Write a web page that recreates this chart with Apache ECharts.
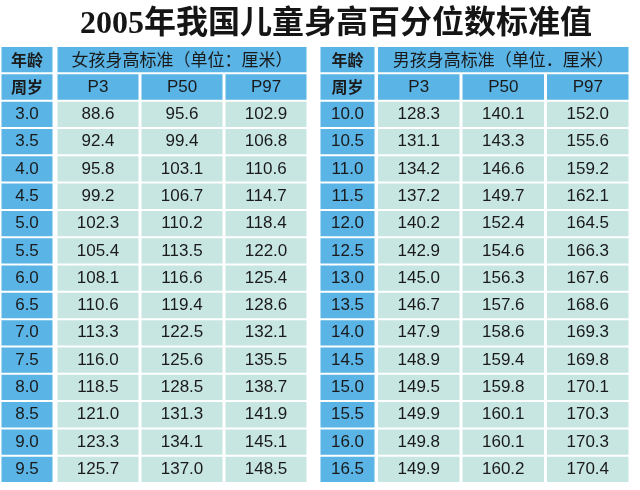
<!DOCTYPE html>
<html>
<head>
<meta charset="utf-8">
<title>2005年我国儿童身高百分位数标准值</title>
<script src="https://cdn.jsdelivr.net/npm/echarts@6/dist/echarts.min.js"></script>
<style>
html, body { margin: 0; padding: 0; background: #fff; }
#main { width: 640px; height: 490px; }
</style>
</head>
<body>
<div id="main"></div>
<script>
// column labels and the two header texts
const columns = ['P3', 'P50', 'P97'];
const girlHeader = '女孩身高标准（单位：厘米）';
const boyHeader = '男孩身高标准（单位．厘米）';

// girls 3.0 - 9.5 years
const girlAges = ['3.0', '3.5', '4.0', '4.5', '5.0', '5.5', '6.0', '6.5', '7.0', '7.5', '8.0', '8.5', '9.0', '9.5'];
const girlP3 = [88.6, 92.4, 95.8, 99.2, 102.3, 105.4, 108.1, 110.6, 113.3, 116.0, 118.5, 121.0, 123.3, 125.7];
const girlP50 = [95.6, 99.4, 103.1, 106.7, 110.2, 113.5, 116.6, 119.4, 122.5, 125.6, 128.5, 131.3, 134.1, 137.0];
const girlP97 = [102.9, 106.8, 110.6, 114.7, 118.4, 122.0, 125.4, 128.6, 132.1, 135.5, 138.7, 141.9, 145.1, 148.5];

// boys 10.0 - 16.5 years
const boyAges = ['10.0', '10.5', '11.0', '11.5', '12.0', '12.5', '13.0', '13.5', '14.0', '14.5', '15.0', '15.5', '16.0', '16.5'];
const boyP3 = [128.3, 131.1, 134.2, 137.2, 140.2, 142.9, 145.0, 146.7, 147.9, 148.9, 149.5, 149.9, 149.8, 149.9];
const boyP50 = [140.1, 143.3, 146.6, 149.7, 152.4, 154.6, 156.3, 157.6, 158.6, 159.4, 159.8, 160.1, 160.1, 160.2];
const boyP97 = [152.0, 155.6, 159.2, 162.1, 164.5, 166.3, 167.6, 168.6, 169.3, 169.8, 170.1, 170.3, 170.3, 170.4];

const blue = '#5ab4e6';
const pale = '#c7e6e2';
const numFont = '17px "Liberation Sans", Arial, sans-serif';
const cjkFont = 'bold 16px "Noto Sans CJK SC", sans-serif';

function ageCells(ages) {
    let cells = [
        { x: 0, y: 0, text: '年龄', font: cjkFont, head: true },
        { x: 0, y: 1, text: '周岁', font: cjkFont, head: true }
    ];
    ages.forEach((a, i) => cells.push({ x: 0, y: i + 2, text: a, font: numFont, head: true }));
    return cells;
}

function valueCells(header, p3, p50, p97) {
    let cells = [{ x: 0, y: 0, text: header, font: '17px "Noto Sans CJK SC", sans-serif', span: 3, head: true }];
    columns.forEach((c, j) => cells.push({ x: j, y: 1, text: c, font: numFont, head: true }));
    [p3, p50, p97].forEach((list, j) => {
        list.forEach((v, i) => cells.push({ x: j, y: i + 2, text: v.toFixed(1), font: numFont }));
    });
    return cells;
}

function cellSeries(cells, idx) {
    return {
        type: 'custom',
        xAxisIndex: idx,
        yAxisIndex: idx,
        clip: false,
        encode: { x: 0, y: 1 },
        data: cells.map(c => [c.x, c.y]),
        renderItem: function (params, api) {
            const c = cells[params.dataIndex];
            const p = api.coord([api.value(0), api.value(1)]);
            const s = api.size([1, 1]);
            const span = c.span || 1;
            return {
                type: 'rect',
                shape: {
                    x: p[0] - s[0] / 2 + 1.5,
                    y: p[1] - s[1] / 2 + 1,
                    width: s[0] * span - 3,
                    height: s[1] - 2
                },
                style: { fill: c.head ? blue : pale },
                textContent: {
                    style: { text: c.text, fill: '#1a1a1a', font: c.font }
                },
                textConfig: { position: 'inside' }
            };
        }
    };
}

const rowKeys = ['h1', 'h2'].concat(girlAges.map((a, i) => 'r' + i));
const grids = [
    { left: 0, top: 46, width: 54, height: 437 },
    { left: 56, top: 46, width: 252, height: 437 },
    { left: 319, top: 46, width: 57, height: 437 },
    { left: 376.5, top: 46, width: 253.5, height: 437 }
];

let chart = echarts.init(document.getElementById('main'));
let option = {
    animation: false,
    backgroundColor: '#fff',
    title: {
        text: '2005年我国儿童身高百分位数标准值',
        left: 75,
        top: 4,
        textStyle: {
            fontSize: 32,
            fontWeight: 'bold',
            color: '#151515',
            fontFamily: "'Liberation Serif', 'Noto Sans CJK SC', serif"
        }
    },
    grid: grids,
    xAxis: grids.map((g, i) => ({
        type: 'category',
        gridIndex: i,
        show: false,
        data: i % 2 === 0 ? ['年龄'] : columns
    })),
    yAxis: grids.map((g, i) => ({
        type: 'category',
        gridIndex: i,
        show: false,
        inverse: true,
        data: rowKeys
    })),
    series: [
        cellSeries(ageCells(girlAges), 0),
        cellSeries(valueCells(girlHeader, girlP3, girlP50, girlP97), 1),
        cellSeries(ageCells(boyAges), 2),
        cellSeries(valueCells(boyHeader, boyP3, boyP50, boyP97), 3)
    ]
};
chart.setOption(option);
</script>
</body>
</html>
